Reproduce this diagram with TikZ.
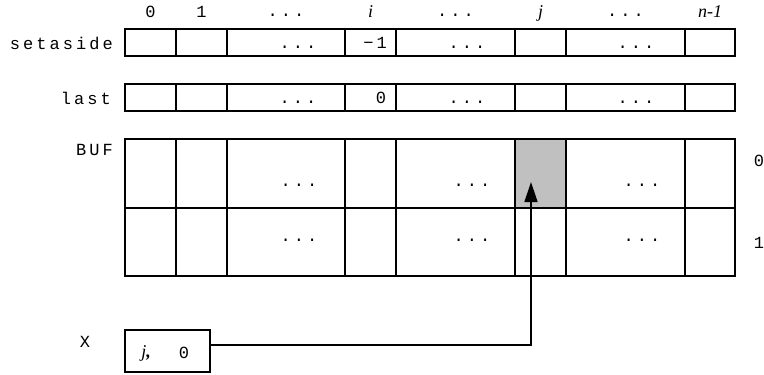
\documentclass[tikz,border=0pt]{standalone}
\usepackage{fontspec}
\usetikzlibrary{arrows.meta,positioning}
\newfontfamily\cour{Liberation Mono}[LetterSpace=18]
\newfontfamily\tms{Liberation Serif}
\definecolor{cellgray}{RGB}{192,192,192}
\begin{document}
\begin{tikzpicture}[x=1pt,y=-1pt,
  cell/.style={draw,line width=1.4pt,inner sep=0pt,outer sep=0pt},
  mono/.style={font=\fontsize{17}{19}\selectfont\cour,inner sep=0pt},
  idx/.style={font=\fontsize{18}{20}\selectfont\tms\itshape,inner sep=0pt},
  arr/.style={-{Triangle[length=20pt,width=13pt]},line width=1.4pt}
]
  \useasboundingbox (0,0) rectangle (764,375);

  % Column indices
  \node[mono,anchor=base] (h1) at (150.5,17) {0};
  \node[mono,anchor=base] (h2) at (201.5,17) {1};
  \node[mono,anchor=base] (h3) at (286,16)   {...};
  \node[idx,anchor=base]  (h4) at (370.5,17) {i};
  \node[mono,anchor=base] (h5) at (455.5,16) {...};
  \node[idx,anchor=base]  (h6) at (540.5,17) {j};
  \node[mono,anchor=base] (h7) at (625.5,16) {...};
  \node[idx,anchor=base]  (h8) at (710,17)   {n-1};

  % Arrays setaside, last and BUF
  \foreach \n/\l/\r in {1/125/176,2/176/227,3/227/345,4/345/396,
                        5/396/515,6/515/566,7/566/685,8/685/735} {
    \pgfmathsetmacro\w{\r-\l}
    \pgfmathsetmacro\c{(\r+\l)/2}
    \node[cell,minimum width=\w pt,minimum height=27pt] (sa\n) at (\c,42.5) {};
    \node[cell,minimum width=\w pt,minimum height=27pt] (la\n) at (\c,97.5) {};
    \node[cell,minimum width=\w pt,minimum height=69pt] (bu\n) at (\c,173.5) {};
    \node[cell,minimum width=\w pt,minimum height=68pt] (bl\n) at (\c,242) {};
  }
  \node[cell,fill=cellgray,minimum width=51pt,minimum height=69pt] at (bu6) {};

  % Row names
  \node[mono,anchor=east] (nsa)  at (113,43)  {setaside};
  \node[mono,anchor=east] (nla)  at (111,98)  {last};
  \node[mono,anchor=east] (nbuf) at (113,150) {BUF};
  \node[mono] (r0) at (759,161) {0};
  \node[mono] (r1) at (759,243) {1};

  % Cell contents
  \node[mono] (vsa) at (375,43) {\char"2212 1};
  \node[mono] (vla) at (381,98) {0};
  \foreach \nm/\x/\y in {sa3/298/48,sa5/467/48,sa7/636/48,
                         la3/298/103,la5/467/103,la7/636/103,
                         bu3/299/186,bu5/472/186,bu7/642/186,
                         bl3/299/241,bl5/472/241,bl7/642/241}
    \node[mono,anchor=base] (d\nm) at (\x,\y) {...};

  % Variable X
  \node[mono] (nx) at (85,342) {X};
  \node[cell,minimum width=85pt,minimum height=42pt] (xbox) at (167.5,351) {};
  \node[idx] (xj) at (146,353) {j\textbf{,}};
  \node[mono] (x0) at (184,353) {0};

  \coordinate (tip) at (531,182);
  \draw[arr] ([yshift=6pt]xbox.east) -| (tip);
\end{tikzpicture}
\end{document}
